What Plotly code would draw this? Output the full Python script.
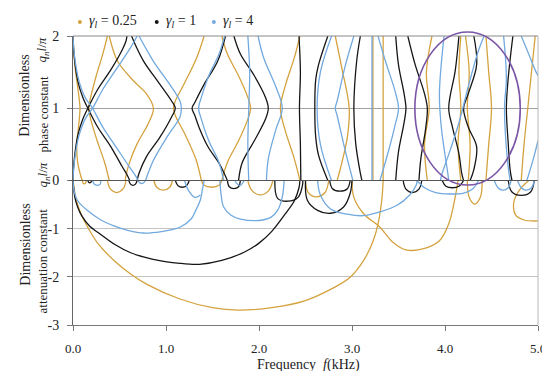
import plotly.graph_objects as go

# ---------------- data ----------------
# frequency f (kHz), dimensionless wavenumber q l/pi ; one list of branches per series
orange_phase = [
    [(0,2),(0.02,1.6),(0.06,1.2),(0.075,1.0),(0.06,0.75),(0.04,0.5),(0.05,0.25),(0.08,0.08),(0.1,0)],
    [(0.37,2),(0.32,1.75),(0.25,1.45),(0.19,1.15),(0.17,1.0),(0.19,0.85),(0.26,0.55),(0.34,0.25),(0.39,0)],
    [(0.39,2),(0.48,1.65),(0.65,1.38),(0.79,1.2),(0.865,1.0),(0.81,0.79),(0.69,0.51),(0.6,0.22),(0.56,0)],
    [(1.41,2),(1.33,1.7),(1.2,1.35),(1.1,1.1),(1.08,1),(1.1,0.9),(1.2,0.65),(1.32,0.3),(1.38,0)],
    [(1.6,2),(1.66,1.75),(1.78,1.45),(1.88,1.15),(1.91,1),(1.88,0.85),(1.78,0.55),(1.66,0.25),(1.6,0)],
    [(2.44,2),(2.38,1.7),(2.28,1.3),(2.23,1.0),(2.28,0.7),(2.38,0.3),(2.44,0)],
    [(2.82,2),(2.89,1.56),(2.97,1),(2.95,0.6),(2.88,0.19),(2.84,0)],
    [(3.225,2),(3.225,1),(3.225,0)],
    [(3.335,2),(3.335,1),(3.335,0)],
    [(3.86,2),(3.8,1.5),(3.83,1.0),(3.78,0.5),(3.81,0)],
    [(4.17,2),(4.15,1.5),(4.17,1),(4.14,0.5),(4.17,0)],
    [(4.22,2),(4.26,1.5),(4.24,1),(4.27,0.5),(4.25,0)],
    [(4.44,2),(4.47,1.5),(4.5,1),(4.47,0.5),(4.44,0)],
    [(4.97,2),(4.93,1.5),(4.89,1),(4.85,0.5),(4.82,0)],
]
black_phase = [
    [(0,2),(0.011,1.74),(0.053,1.37),(0.106,1.15),(0.16,1.0),(0.265,0.74),(0.406,0.47),(0.53,0.19),(0.585,0.07),(0.61,0)],
    [(0,0),(0.011,0.26),(0.053,0.63),(0.106,0.85),(0.16,1.0),(0.265,1.26),(0.406,1.53),(0.53,1.81),(0.57,1.93),(0.58,2)],
    [(0.63,2),(0.68,1.85),(0.76,1.65),(0.935,1.33),(1.06,1.1),(1.1,1.0),(1.06,0.88),(0.935,0.6),(0.79,0.33),(0.71,0.1),(0.69,0)],
    [(1.64,2),(1.555,1.65),(1.41,1.33),(1.31,1.08),(1.28,1.0),(1.31,0.9),(1.36,0.72),(1.45,0.47),(1.57,0.24),(1.625,0.1),(1.66,0)],
    [(1.73,2),(1.8,1.75),(1.95,1.45),(2.07,1.15),(2.1,1),(2.07,0.85),(1.95,0.55),(1.82,0.25),(1.78,0)],
    [(2.43,2),(2.445,1.5),(2.435,1.0),(2.445,0.5),(2.45,0)],
    [(2.74,2),(2.64,1.6),(2.61,1.4),(2.6,1),(2.61,0.6),(2.64,0.35),(2.74,0)],
    [(3.09,2),(3.05,1.65),(3.02,1),(3.04,0.51),(3.09,0.1),(3.107,0)],
    [(3.47,2),(3.5,1.6),(3.56,1.2),(3.58,1),(3.56,0.8),(3.5,0.4),(3.47,0)],
    [(3.6,2),(3.68,1.6),(3.78,1.2),(3.81,1),(3.79,0.7),(3.74,0.3),(3.72,0)],
    [(4.15,2),(4.11,1.52),(4.04,1),(4.08,0.74),(4.15,0.37),(4.18,0.1),(4.2,0)],
    [(4.31,2),(4.34,1.6),(4.25,1.2),(4.2,1.0),(4.25,0.74),(4.34,0.47),(4.31,0.15),(4.27,0)],
    [(4.73,2),(4.68,1.42),(4.66,1),(4.68,0.51),(4.7,0.15),(4.72,0)],
]
blue_phase = [
    [(0,2),(0.015,1.74),(0.06,1.4),(0.13,1.15),(0.21,1.0),(0.32,0.74),(0.46,0.47),(0.6,0.2),(0.67,0.07),(0.7,0)],
    [(0,0),(0.015,0.26),(0.06,0.6),(0.13,0.85),(0.21,1),(0.32,1.26),(0.46,1.53),(0.6,1.8),(0.66,1.93),(0.69,2)],
    [(0.71,2),(0.865,1.65),(1.04,1.33),(1.15,1.1),(1.165,1.0),(1.15,0.88),(1.01,0.6),(0.865,0.28),(0.78,0)],
    [(1.63,2),(1.57,1.75),(1.46,1.45),(1.38,1.15),(1.35,1),(1.38,0.85),(1.46,0.55),(1.57,0.25),(1.62,0)],
    [(1.88,2),(1.9,1.5),(1.89,1.0),(1.88,0.5),(1.89,0)],
    [(1.99,2),(2.05,1.7),(2.18,1.3),(2.25,1.0),(2.18,0.7),(2.1,0.3),(2.08,0)],
    [(2.78,2),(2.66,1.5),(2.625,1),(2.66,0.5),(2.78,0)],
    [(3.02,2),(2.93,1.6),(2.84,1.1),(2.82,1),(2.84,0.9),(2.93,0.4),(3.01,0)],
    [(3.215,2),(3.215,1),(3.215,0)],
    [(3.28,2),(3.36,1.65),(3.46,1.25),(3.5,1),(3.46,0.75),(3.38,0.35),(3.3,0)],
    [(3.99,2),(3.94,1.2),(3.96,0.74),(4.03,0.1),(4.04,0)],
    [(4.42,2),(4.36,1.8),(4.25,1.3),(4.15,0.8),(4.05,0.4),(3.97,0.1),(3.95,0)],
    [(4.63,2),(4.66,1.42),(4.64,1),(4.67,0.3),(4.7,0)],
    [(4.82,2),(4.9,1.75),(4.98,1.5),(5.0,1.45)],
    [(5.0,0.55),(4.95,0.3),(4.88,0)],
]

orange_atten = [
    [(0,0),(0.01,-0.14),(0.035,-0.41),(0.088,-0.7),(0.176,-1.03),(0.265,-1.3),(0.44,-1.66),(0.62,-1.94),(0.79,-2.15),
     (1.15,-2.46),(1.5,-2.64),(1.78,-2.69),(2.14,-2.64),(2.49,-2.5),(2.81,-2.22),(2.98,-2.01),(3.125,-1.66),
     (3.23,-1.24),(3.28,-0.9),(3.32,-0.41),(3.335,0)],
    [(3.0,0),(3.02,-0.35),(3.125,-0.69),(3.3,-0.97),(3.44,-1.28),(3.58,-1.44),(3.76,-1.42),(3.94,-1.25),(4.04,-0.9),(4.11,-0.34),(4.14,0)],
    [(0.1,0),(0.11,-0.06),(0.125,-0.07),(0.14,-0.03),(0.14,0)],
    [(0.37,0),(0.4,-0.17),(0.47,-0.25),(0.54,-0.17),(0.57,0)],
    [(0.87,0),(0.9,-0.14),(0.97,-0.2),(1.04,-0.14),(1.07,0)],
    [(1.38,0),(1.41,-0.1),(1.49,-0.14),(1.57,-0.1),(1.6,0)],
    [(1.88,0),(1.92,-0.2),(2.01,-0.3),(2.1,-0.22),(2.15,0)],
    [(2.5,0),(2.53,-0.25),(2.62,-0.34),(2.71,-0.25),(2.75,0)],
    [(4.24,0),(4.26,-0.35),(4.32,-0.49),(4.38,-0.35),(4.4,0)],
    [(4.9,0),(4.8,-0.2),(4.74,-0.45),(4.76,-0.72),(4.85,-0.82),(5.0,-0.84)],
]
black_atten = [
    [(0,0),(0.01,-0.2),(0.02,-0.35),(0.05,-0.55),(0.09,-0.72),(0.18,-0.95),(0.27,-1.08),(0.45,-1.33),(0.62,-1.5),
     (0.85,-1.63),(1.15,-1.72),(1.36,-1.74),(1.6,-1.66),(1.85,-1.48),(2.0,-1.3),(2.14,-1.05),(2.28,-0.7),
     (2.38,-0.42),(2.43,-0.15),(2.44,0)],
    [(0.16,0),(0.17,-0.04),(0.19,-0.04),(0.2,0)],
    [(0.6,0),(0.62,-0.08),(0.645,-0.1),(0.67,-0.08),(0.69,0)],
    [(1.1,0),(1.13,-0.11),(1.175,-0.14),(1.22,-0.11),(1.25,0)],
    [(1.66,0),(1.68,-0.13),(1.73,-0.17),(1.78,-0.13),(1.8,0)],
    [(2.17,0),(2.2,-0.37),(2.31,-0.43),(2.42,-0.35),(2.47,-0.07),(2.47,0)],
    [(2.5,0),(2.52,-0.41),(2.63,-0.62),(2.77,-0.68),(2.91,-0.55),(2.98,-0.27),(3.0,0)],
    [(2.76,0),(2.79,-0.17),(2.87,-0.22),(2.95,-0.17),(2.98,0)],
    [(3.55,0),(3.58,-0.18),(3.65,-0.25),(3.72,-0.18),(3.75,0)],
    [(3.97,0),(4.01,-0.12),(4.08,-0.15),(4.15,-0.12),(4.2,0)],
    [(4.68,0),(4.72,-0.24),(4.82,-0.31),(4.92,-0.24),(4.96,0)],
]
blue_atten = [
    [(0,0),(0.01,-0.2),(0.05,-0.42),(0.16,-0.63),(0.3,-0.82),(0.44,-0.94),(0.6,-1.04),(0.76,-1.09),(0.95,-1.06),
     (1.15,-0.97),(1.27,-0.8),(1.32,-0.62),(1.37,-0.4),(1.39,-0.2),(1.41,0)],
    [(0.21,0),(0.23,-0.08),(0.26,-0.1),(0.29,-0.08),(0.3,0)],
    [(0.7,0),(0.72,-0.05),(0.75,-0.06),(0.78,0)],
    [(1.2,0),(1.24,-0.2),(1.31,-0.35),(1.37,-0.3)],
    [(1.58,0),(1.59,-0.25),(1.62,-0.55),(1.7,-0.72),(1.8,-0.8),(2.0,-0.83),(2.13,-0.76),(2.2,-0.62),(2.25,-0.35),(2.27,0)],
    [(1.74,0),(1.77,-0.08),(1.8,-0.1),(1.84,0)],
    [(2.63,0),(2.66,-0.3),(2.77,-0.59),(2.95,-0.7),(3.125,-0.73),(3.3,-0.65),(3.48,-0.52),(3.62,-0.3),(3.69,-0.1),(3.7,0)],
    [(3.7,0),(3.78,-0.15),(3.9,-0.25),(4.05,-0.28),(4.2,-0.26),(4.3,-0.17),(4.36,0)],
    [(4.53,0),(4.57,-0.15),(4.62,-0.2),(4.68,-0.15),(4.71,0)],
    [(4.78,0),(4.82,-0.15),(4.87,-0.2),(4.93,-0.15),(4.96,0)],
]

x_ticks = [0, 1, 2, 3, 4, 5]
x_tick_text = ["0.0", "1.0", "2.0", "3.0", "4.0", "5.0"]
phase_ticks = [0, 1, 2]
phase_tick_text = ["0", "1", "2"]
atten_ticks = [-3, -2, -1]
atten_tick_text = ["-3", "-2", "-1"]
legend_names = ["0.25", "1", "4"]

ORANGE = "#D4A23E"
BLACK = "#161616"
BLUE = "#72A9DE"
FONT = "Liberation Serif, Times New Roman, serif"


def flatten(branches):
    xs, ys = [], []
    for br in branches:
        for f, q in br:
            xs.append(f)
            ys.append(q)
        xs.append(None)
        ys.append(None)
    return xs, ys


fig = go.Figure()
series = [
    (orange_phase, orange_atten, ORANGE),
    (black_phase, black_atten, BLACK),
    (blue_phase, blue_atten, BLUE),
]
for phase, atten, col in series:
    for data, ya in ((atten, "y2"), (phase, "y")):
        xs, ys = flatten(data)
        fig.add_trace(go.Scatter(x=xs, y=ys, mode="lines", xaxis="x", yaxis=ya,
                                 line=dict(color=col, width=1.3, shape="spline", smoothing=1.0),
                                 connectgaps=False, showlegend=False, hoverinfo="skip"))

W, H = 550, 371
L, R, T, B = 65, 13, 28, 54
pw, ph = W - L - R, H - T - B


def px2paper(px, py):
    return (px - L) / pw, (H - B - py) / ph


shapes = []
# frame lines: top (q=2), zero line, right border
shapes.append(dict(type="line", xref="paper", yref="paper", x0=0, x1=1, y0=1, y1=1,
                   line=dict(color="#8a8a8a", width=1)))
shapes.append(dict(type="line", xref="paper", yref="paper", x0=-0.008, x1=1, y0=0.5, y1=0.5,
                   line=dict(color="#555555", width=1.2)))
shapes.append(dict(type="line", xref="paper", yref="paper", x0=1, x1=1, y0=0, y1=1,
                   line=dict(color="#b8b8b8", width=1)))
# highlighted region (purple ellipse)
ex0, ey1 = px2paper(412, 24)
ex1, ey0 = px2paper(519, 177)
shapes.append(dict(type="circle", xref="paper", yref="paper", x0=ex0, x1=ex1, y0=ey0, y1=ey1,
                   line=dict(color="#7A55A6", width=1.6)))

annotations = []
# legend (dots + labels)
leg_cols = [ORANGE, BLACK, BLUE]
leg_dot_px = [72, 150, 208]
for name, col, dpx in zip(legend_names, leg_cols, leg_dot_px):
    cx, cy = px2paper(dpx, 14)
    rx, ry = 2 / pw, 2 / ph
    shapes.append(dict(type="circle", xref="paper", yref="paper", x0=cx - rx, x1=cx + rx,
                       y0=cy - ry, y1=cy + ry, fillcolor=col, line=dict(color=col, width=0)))
    tx, ty = px2paper(dpx + 7, 13)
    annotations.append(dict(xref="paper", yref="paper", x=tx, y=ty, xanchor="left", yanchor="middle",
                            text="<i>γ<sub>l</sub></i> = " + name, showarrow=False,
                            font=dict(family=FONT, size=14, color="#222")))


# y-axis titles
def ytitle(text, px, py, size=13):
    x, y = px2paper(px, py)
    annotations.append(dict(xref="paper", yref="paper", x=x, y=y, xanchor="center", yanchor="middle",
                            text=text, textangle=-90, showarrow=False,
                            font=dict(family=FONT, size=size, color="#222")))


ytitle("Dimensionless", 16, 88, 14)
ytitle("phase constant", 35, 106)
ytitle("<i>q<sub>n</sub>l</i>/<i>π</i>", 35, 42)
ytitle("Dimensionless", 16, 237, 14)
ytitle("attenuation constant", 35, 253)
ytitle("<i>q<sub>n</sub>l</i>/<i>π</i>", 35, 167)

# x-axis title
xt, yt = px2paper(304, 357)
annotations.append(dict(xref="paper", yref="paper", x=xt, y=yt, xanchor="center", yanchor="middle",
                        text="Frequency  <i>f</i>(kHz)", showarrow=False,
                        font=dict(family=FONT, size=14, color="#222")))

fig.update_layout(
    width=W, height=H, margin=dict(l=L, r=R, t=T, b=B),
    paper_bgcolor="white", plot_bgcolor="white",
    font=dict(family=FONT, size=13, color="#222"),
    shapes=shapes, annotations=annotations, showlegend=False,
    xaxis=dict(range=[0, 5], tickvals=x_ticks, ticktext=x_tick_text, anchor="y2",
               showgrid=False, zeroline=False, showline=True, linecolor="#777", linewidth=1,
               ticks="outside", ticklen=5, tickcolor="#777", ticklabelstandoff=6,
               tickfont=dict(family=FONT, size=13, color="#222")),
    yaxis=dict(domain=[0.5, 1], range=[0, 2], tickvals=phase_ticks, ticktext=phase_tick_text, anchor="x",
               showgrid=True, gridcolor="#a0a0a0", gridwidth=1, zeroline=False,
               showline=True, linecolor="#666", linewidth=1,
               ticks="outside", ticklen=5, tickcolor="#777", ticklabelstandoff=5,
               tickfont=dict(family=FONT, size=14, color="#222")),
    yaxis2=dict(domain=[0, 0.5], range=[-3, 0], tickvals=atten_ticks, ticktext=atten_tick_text, anchor="x",
                showgrid=True, gridcolor="#c4c4c4", gridwidth=1, zeroline=False,
                showline=True, linecolor="#666", linewidth=1,
                ticks="outside", ticklen=5, tickcolor="#777", ticklabelstandoff=5,
                tickfont=dict(family=FONT, size=14, color="#222")),
)

fig.write_html("out.html")
